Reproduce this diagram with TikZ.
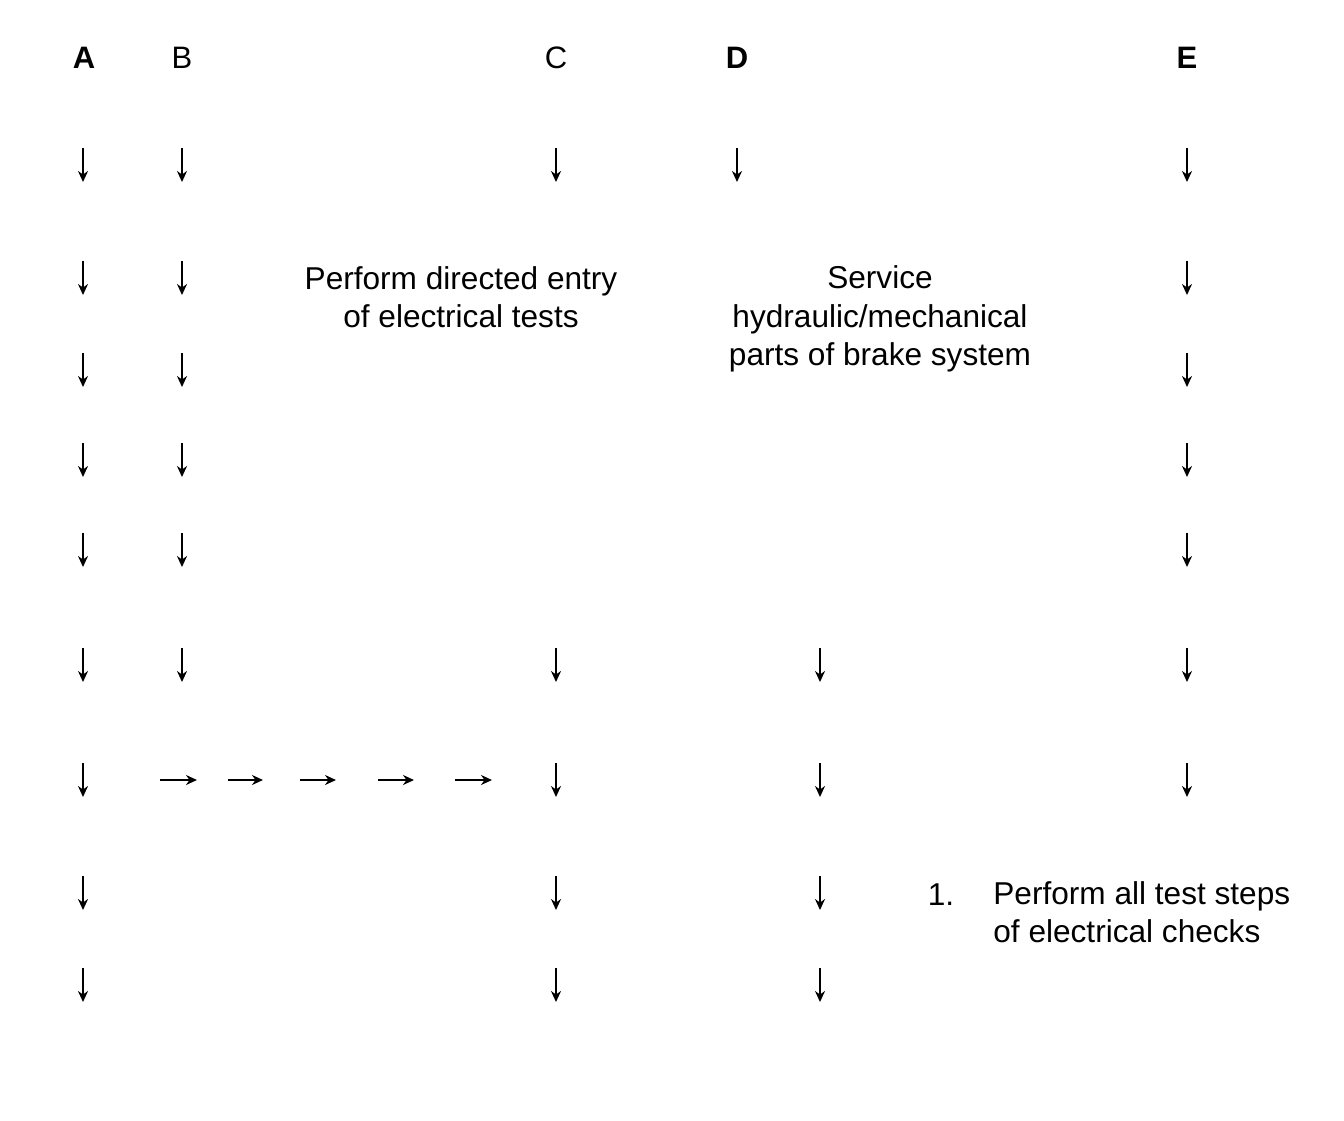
\documentclass[tikz,border=0pt]{standalone}
\usepackage{fontspec}
\setsansfont{Liberation Sans}
\usetikzlibrary{arrows.meta}

\tikzset{
  dnarrow/.style={line width=0.9pt,-{Stealth[length=5.5pt,width=5pt]}},
  rtarrow/.style={line width=0.9pt,-{Stealth[length=5.5pt,width=5pt]}},
  colhead/.style={font=\sffamily\fontsize{15.5}{18}\selectfont},
  colheadbf/.style={font=\sffamily\bfseries\fontsize{15.5}{18}\selectfont},
  steptext/.style={font=\sffamily\fontsize{15.8}{19.3}\selectfont,align=center}
}

\begin{document}
\begin{tikzpicture}[x=0.5pt,y=-0.5pt]
  \useasboundingbox (0,0) rectangle (1344,1120);
  % Half length of a short arrow (pixel units).
  \def\ah{17}

  % Column headings.
  \node[colheadbf] (hA) at (84,58) {A};
  \node[colhead] (hB) at (182,58) {B};
  \node[colhead] (hC) at (556,58) {C};
  \node[colheadbf] (hD) at (737,58) {D};
  \node[colheadbf] (hE) at (1187,58) {E};

  % Column A.
  \foreach \y in {165,278,370,460,550,665,780,893,985} {
    \draw[dnarrow] (83,\y-\ah) -- (83,\y+\ah);
  }
  % Column B.
  \foreach \y in {165,278,370,460,550,665} {
    \draw[dnarrow] (182,\y-\ah) -- (182,\y+\ah);
  }
  % Column C.
  \foreach \y in {165,665,780,893,985} {
    \draw[dnarrow] (556,\y-\ah) -- (556,\y+\ah);
  }
  % Column D: top arrow, then the lower run shifted right.
  \draw[dnarrow] (737,165-\ah) -- (737,165+\ah);
  \foreach \y in {665,780,893,985} {
    \draw[dnarrow] (820,\y-\ah) -- (820,\y+\ah);
  }
  % Column E.
  \foreach \y in {165,278,370,460,550,665,780} {
    \draw[dnarrow] (1187,\y-\ah) -- (1187,\y+\ah);
  }

  % Horizontal run from B over to C.
  \foreach \xa/\xb in {160/197,228/263,300/336,378/414,455/492} {
    \draw[rtarrow] (\xa,780) -- (\xb,780);
  }

  % Step texts.
  \node[steptext] (tC) at (461,297)
    {Perform directed entry\\of electrical tests};
  \node[steptext] (tD) at (880,319)
    {Service\\hydraulic/mechanical\\parts of brake system};
  \node[steptext] (tnum) at (941,895) {1.};
  \node[steptext,align=left,anchor=west,inner sep=0pt] (tE) at (993,912)
    {Perform all test steps\\of electrical checks};
\end{tikzpicture}
\end{document}
